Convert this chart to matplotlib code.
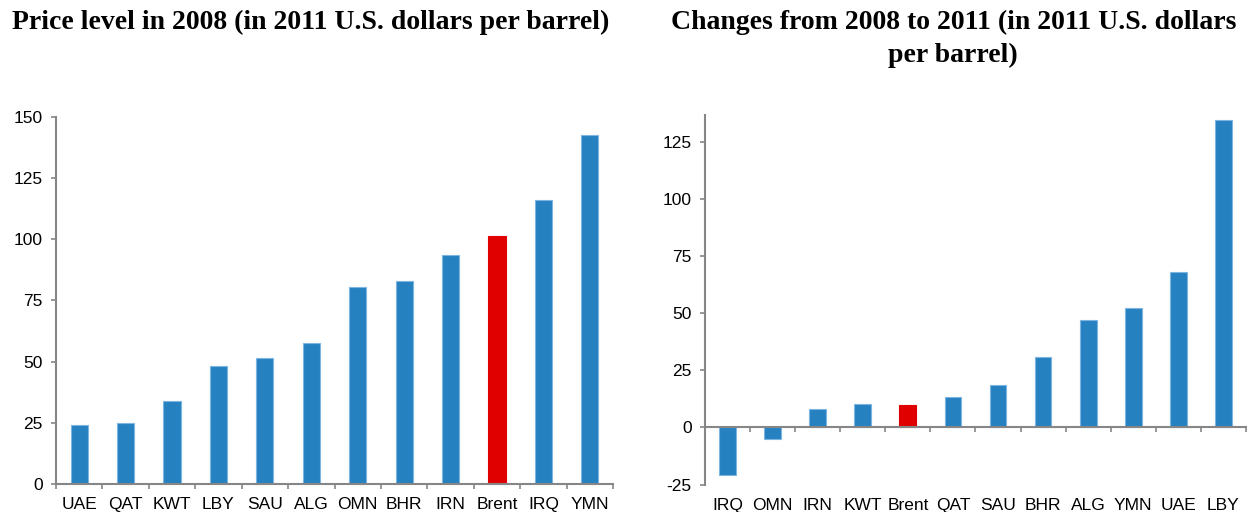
import matplotlib
matplotlib.use("Agg")
import matplotlib.pyplot as plt
import numpy as np

# ---- data ----
left_categories = ["UAE", "QAT", "KWT", "LBY", "SAU", "ALG", "OMN", "BHR", "IRN", "Brent", "IRQ", "YMN"]
left_values = [24.3, 24.9, 33.8, 48.2, 51.6, 57.8, 80.6, 82.9, 93.6, 101.5, 116.0, 142.7]
left_title = "Price level in 2008 (in 2011 U.S. dollars per barrel)"
left_yticks = [0, 25, 50, 75, 100, 125, 150]

right_categories = ["IRQ", "OMN", "IRN", "KWT", "Brent", "QAT", "SAU", "BHR", "ALG", "YMN", "UAE", "LBY"]
right_values = [-20.8, -5.1, 8.2, 10.2, 9.9, 13.3, 18.6, 30.9, 47.3, 52.2, 68.0, 135.0]
right_title = "Changes from 2008 to 2011 (in 2011 U.S. dollars\nper barrel)"
right_yticks = [-25, 0, 25, 50, 75, 100, 125]

highlight = "Brent"

BLUE = "#2681C1"
BLUE_EDGE = "#7DB5E0"
RED = "#E00000"
AXIS = "#868686"

plt.rcParams["font.family"] = ["Liberation Sans", "DejaVu Sans"]

fig = plt.figure(figsize=(12.51, 5.12), dpi=100)
axL = fig.add_axes([0.0448, 0.0547, 0.4452, 0.7168])
axR = fig.add_axes([0.5635, 0.0537, 0.4325, 0.7215])


def draw(ax, cats, vals, ylim, yticks, zero_spine=False, label_pad=7):
    x = np.arange(len(cats))
    colors = [RED if c == highlight else BLUE for c in cats]
    edges = [RED if c == highlight else BLUE_EDGE for c in cats]
    ax.bar(x, vals, width=0.37, color=colors, edgecolor=edges, linewidth=0.8, zorder=2)
    ax.set_xlim(-0.5, len(cats) - 0.5)
    ax.set_ylim(*ylim)
    ax.set_yticks(yticks)
    ax.set_yticklabels([str(t) for t in yticks])
    ax.set_xticks(x)
    ax.set_xticklabels(cats)
    ax.set_xticks(np.arange(len(cats) + 1) - 0.5, minor=True)
    for s in ["top", "right"]:
        ax.spines[s].set_visible(False)
    for s in ["left", "bottom"]:
        ax.spines[s].set_color(AXIS)
        ax.spines[s].set_linewidth(1.5)
        ax.spines[s].set_zorder(3)
    if zero_spine:
        ax.spines["bottom"].set_position(("data", 0))
    ax.tick_params(axis="y", which="major", direction="out", length=3.5, width=1.2,
                   color=AXIS, labelsize=12.5, labelcolor="black", pad=6)
    ax.tick_params(axis="x", which="major", length=0, labelsize=12.5,
                   labelcolor="black", pad=label_pad)
    ax.tick_params(axis="x", which="minor", direction="out", length=3.5, width=1.2,
                   color=AXIS)
    ax.set_facecolor("white")


draw(axL, left_categories, left_values, (0, 150), left_yticks, label_pad=9.5)
draw(axR, right_categories, right_values, (-25, 137), right_yticks, zero_spine=True, label_pad=51)

fig.text(0.248, 0.957, left_title, ha="center", va="center",
         fontfamily="Liberation Serif", fontweight="bold", fontsize=20)
fig.text(0.762, 0.924, right_title, ha="center", va="center",
         fontfamily="Liberation Serif", fontweight="bold", fontsize=20, linespacing=1.38)

fig.savefig("out.png", dpi=100, facecolor="white")
